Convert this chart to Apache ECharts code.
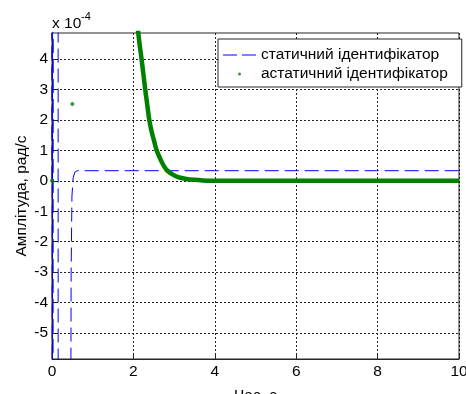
<!DOCTYPE html>
<html>
<head>
<meta charset="utf-8">
<script src="https://cdn.jsdelivr.net/npm/echarts@6/dist/echarts.min.js"></script>
<style>
  html, body { margin: 0; padding: 0; background: #fff; }
  #chart { width: 466px; height: 394px; }
</style>
</head>
<body>
<div id="chart"></div>
<script>
// values are in units of 1e-4 (see the "x 10^-4" label)
var yTicks = [-5, -4, -3, -2, -1, 0, 1, 2, 3, 4];

// статичний ідентифікатор: [час, амплітуда]
var staticData = [
  [0, 0], [0.003, 60], [0.006, -60], [0.05, -60], [0.052, 60],
  [0.15, 60], [0.152, -60], [0.46, -60], [0.465, -5.9], [0.47, -3],
  [0.49, -0.5], [0.52, 0.1], [0.56, 0.28], [0.62, 0.33], [10, 0.33]
];

// астатичний ідентифікатор: isolated samples
var astaticDots = [[0, 0], [0.5, 2.52]];

// астатичний ідентифікатор: dense samples (drawn as a thick run of dots)
var astaticCurve = [
  [2.08, 5.4], [2.12, 4.85], [2.16, 4.4], [2.2, 4.0], [2.25, 3.45],
  [2.29, 3.0], [2.34, 2.5], [2.39, 2.0], [2.45, 1.6], [2.5, 1.35],
  [2.57, 1.0], [2.65, 0.75], [2.72, 0.55], [2.82, 0.35], [2.95, 0.22],
  [3.1, 0.12], [3.3, 0.06], [3.5, 0.03], [3.7, 0.012], [4.0, 0.004],
  [5.0, 0], [10, 0]
];

var FONT = 'Liberation Sans, Arial, sans-serif';
var FS = 15.5;
var chart = echarts.init(document.getElementById('chart'));

chart.setOption({
  animation: false,
  textStyle: { fontFamily: FONT, color: '#000' },
  grid: {
    left: 52, right: 7, top: 33, bottom: 35,
    containLabel: false,
    outerBoundsMode: 'none',
    show: true, borderColor: '#262626', borderWidth: 1
  },
  legend: {
    orient: 'vertical',
    left: 218, top: 39,
    padding: [8, 14, 5, 5],
    itemGap: 3,
    itemWidth: 33,
    itemHeight: 3,
    backgroundColor: '#fff',
    borderColor: '#262626',
    borderWidth: 1,
    textStyle: { fontSize: FS, color: '#000', fontFamily: FONT },
    data: [
      { name: 'статичний ідентифікатор', icon: 'path://M0,0H14V1H0Z M19,0H33V1H19Z' },
      { name: 'астатичний ідентифікатор', icon: 'circle' }
    ]
  },
  graphic: [
    { type: 'text', left: 52, top: 16, style: { text: 'x 10', font: FS + 'px ' + FONT, fill: '#000' } },
    { type: 'text', left: 81, top: 11, style: { text: '-4', font: '11px ' + FONT, fill: '#000' } }
  ],
  xAxis: {
    type: 'value',
    min: 0, max: 10, interval: 2,
    name: 'Час, с',
    nameLocation: 'middle',
    nameGap: 29,
    nameMoveOverlap: false,
    nameTextStyle: { fontSize: FS, color: '#000' },
    axisLine: { onZero: false, lineStyle: { color: '#262626' } },
    axisTick: { inside: true, length: 4, lineStyle: { color: '#262626' } },
    axisLabel: { fontSize: FS, color: '#000', margin: 5 },
    splitLine: { lineStyle: { color: '#222', type: [2, 2], width: 1 } }
  },
  yAxis: {
    type: 'value',
    min: -5.85, max: 4.85,
    name: 'Амплітуда, рад/с',
    nameLocation: 'middle',
    nameGap: 22,
    nameMoveOverlap: false,
    nameTextStyle: { fontSize: FS, color: '#000' },
    axisLine: { show: true, onZero: false, lineStyle: { color: '#262626' } },
    axisTick: { inside: true, length: 4, customValues: yTicks, lineStyle: { color: '#262626' } },
    axisLabel: { fontSize: FS, color: '#000', margin: 4, customValues: yTicks },
    splitLine: { lineStyle: { color: '#222', type: [2, 2], width: 1 } }
  },
  series: [
    {
      name: 'статичний ідентифікатор',
      type: 'line',
      data: staticData,
      showSymbol: false,
      color: '#0000ff',
      lineStyle: { color: '#0000ff', width: 1, type: [14, 6] },
      z: 3
    },
    {
      name: 'астатичний ідентифікатор',
      type: 'scatter',
      data: astaticDots,
      symbol: 'circle',
      symbolSize: 4,
      color: '#008000',
      z: 4
    },
    {
      name: 'астатичний ідентифікатор',
      type: 'line',
      data: astaticCurve,
      showSymbol: false,
      smooth: 0.3,
      color: '#008000',
      lineStyle: { color: '#008000', width: 4.5, join: 'round' },
      z: 4
    }
  ]
});
</script>
</body>
</html>
